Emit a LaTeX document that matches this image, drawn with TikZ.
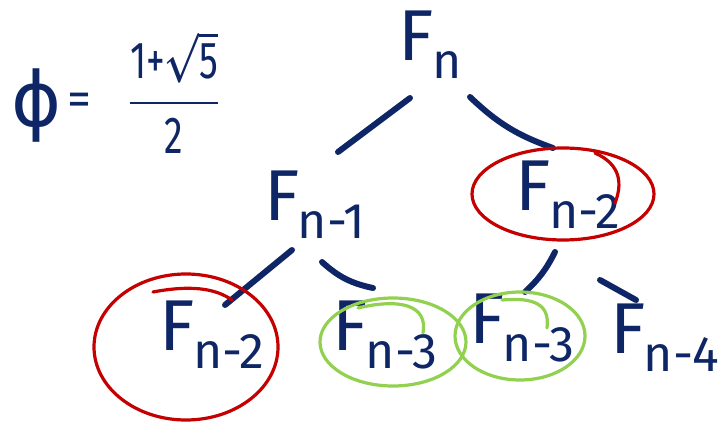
\documentclass[tikz,border=0pt]{standalone}
\usepackage{amsmath}
\usepackage{fontspec}
\setmainfont{Fira Sans}
\newfontfamily\symfont{DejaVu Sans}
\usetikzlibrary{calc}

\definecolor{inkblue}{RGB}{14,38,102}
\definecolor{inkred}{RGB}{196,0,0}
\definecolor{inkgreen}{RGB}{146,208,80}

% F with a lowered index, as the hand-written labels
\newcommand{\fib}[1]{F\kern-1pt{\fontsize{25}{25}\selectfont\raisebox{-9pt}{#1}}}

\begin{document}
\begin{tikzpicture}[
  x=0.5pt, y=-0.5pt,
  every node/.style={text=inkblue, inner sep=0pt},
  term/.style={font=\fontsize{36}{40}\selectfont},
  edge/.style={draw=inkblue, line width=3pt, line cap=round},
  redring/.style={draw=inkred, line width=1.6pt, line cap=round},
  greenring/.style={draw=inkgreen, line width=1.6pt, line cap=round},
]
\useasboundingbox (0,0) rectangle (727,422);

% ---------------------------------------------------------------- formula
\node[font=\fontsize{38}{42}\symfont] (phisym) at (37,106) {ϕ};
\node[font=\fontsize{24}{28}\selectfont] (eqsign) at (79,104) {=};
\node[font=\fontsize{26}{30}\selectfont\boldmath] (golden) at (174,92)
  {\scalebox{0.72}[1]{$\dfrac{\text{1}\text{+}\sqrt{\text{5}}}{\text{2}}$}};

% ---------------------------------------------------------------- the tree
\node[term] (fn)   at (430,45)  {\fib{n}};
\node[term] (fn1)  at (315,205) {\fib{n-1}};
\node[term] (fn2r) at (568,195) {\fib{n-2}};
\node[term] (fn2l) at (212,335) {\fib{n-2}};
\node[term] (fn3a) at (385,335) {\fib{n-3}};
\node[term] (fn3b) at (522,328) {\fib{n-3}};
\node[term] (fn4)  at (665,338) {\fib{n-4}};

% edges, with gaps at both ends
\draw[edge] ($(fn)+(-20,53)$) -- ($(fn1)+(23,-53)$);
\draw[edge] ($(fn)+(40,52)$) to[bend right=12] ($(fn2r)+(-15,-47)$);
\draw[edge] ($(fn1)+(-23,45)$) -- ($(fn2l)+(13,-30)$);
\draw[edge] ($(fn1)+(7,57)$) to[bend right=15] ($(fn3a)+(-12,-47)$);
\draw[edge] ($(fn2r)+(-13,57)$) to[bend left=10] ($(fn3b)+(3,-36)$);
\draw[edge] ($(fn2r)+(32,85)$) -- ($(fn4)+(-29,-38)$);

% repeated calls ringed (with the overlapping pen tails)
\draw[redring]   ($(fn2r)+(-5,-1)$) ellipse [x radius=91, y radius=46];
\draw[redring]   ($(fn2r)+(27,-42)$) .. controls ($(fn2r)+(54,-30)$) and ($(fn2r)+(54,-10)$) .. ($(fn2r)+(47,8)$);
\draw[redring]   ($(fn2l)+(-26,12)$) ellipse [x radius=92, y radius=73];
\draw[redring]   ($(fn2l)+(-59,-43)$) .. controls ($(fn2l)+(-22,-50)$) and ($(fn2l)+(3,-47)$) .. ($(fn2l)+(20,-35)$);
\draw[greenring] ($(fn3a)+(8,7)$)   ellipse [x radius=73, y radius=44];
\draw[greenring] ($(fn3a)+(-27,-27)$) .. controls ($(fn3a)+(15,-37)$) and ($(fn3a)+(43,-30)$) .. ($(fn3a)+(38,-2)$);
\draw[greenring] ($(fn3b)+(-2,8)$)  ellipse [x radius=65, y radius=44];
\draw[greenring] ($(fn3b)+(-20,-28)$) .. controls ($(fn3b)+(13,-31)$) and ($(fn3b)+(28,-23)$) .. ($(fn3b)+(25,0)$);
\end{tikzpicture}
\end{document}
